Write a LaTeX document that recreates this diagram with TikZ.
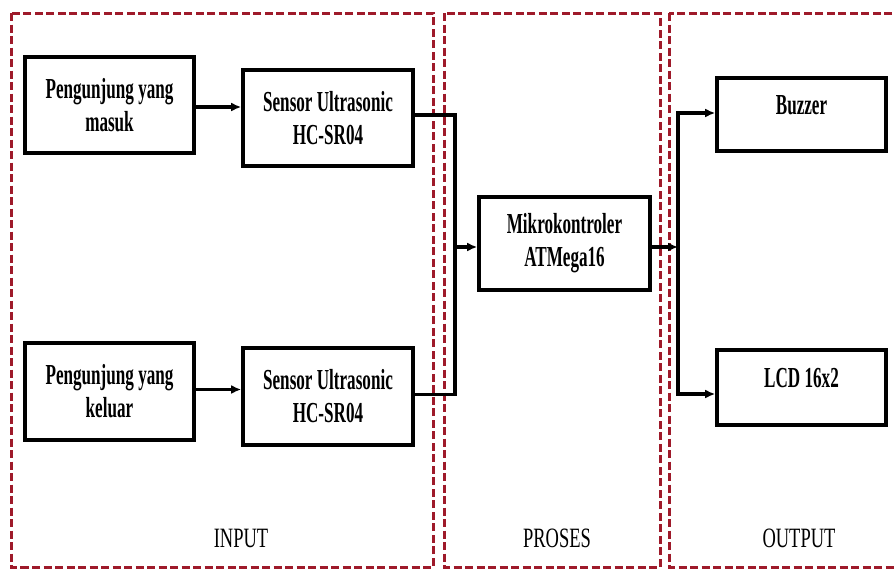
\documentclass[tikz,border=0pt]{standalone}
\usepackage{fontspec}
\setmainfont{Liberation Serif}
\newfontfamily\boxfont{Liberation Serif}[FakeStretch=0.59]
\newfontfamily\labfont{Liberation Serif}[FakeStretch=0.66]
\usetikzlibrary{arrows.meta}
\definecolor{zonered}{RGB}{158,26,42}
\begin{document}
\begin{tikzpicture}[x=1pt,y=-1pt,
  blk/.style={draw=black, line width=3.6pt, align=center, inner sep=0pt,
    font=\boxfont\bfseries\fontsize{29}{33}\selectfont},
  zone/.style={draw=zonered, line width=3pt, dash pattern=on 8pt off 3.5pt},
  conn/.style={line width=3.4pt, draw=black},
  arr/.style={conn, -{Latex[length=10pt,width=9pt]}},
  zlabel/.style={font=\labfont\fontsize{28}{30}\selectfont, anchor=base}]
\useasboundingbox (0,0) rectangle (895,574);
\fill[white] (0,0) rectangle (895,574);
% zones
\draw[zone] (11,13) rectangle (433,567);
\draw[zone] (444,13) rectangle (660,567);
\draw[zone] (669,13) rectangle (905,567);
% blocks
\node[blk, minimum width=169pt, minimum height=96pt] (m) at (109.5,105) {Pengunjung yang\\masuk};
\node[blk, minimum width=170pt, minimum height=96pt] (s1) at (328,118) {Sensor Ultrasonic\\HC-SR04};
\node[blk, minimum width=169pt, minimum height=97pt] (k) at (109.5,391.5) {Pengunjung yang\\keluar};
\node[blk, minimum width=170pt, minimum height=97pt] (s2) at (328,396.5) {Sensor Ultrasonic\\HC-SR04};
\node[blk, minimum width=171pt, minimum height=93pt] (mk) at (564.5,243.5) {Mikrokontroler\\ATMega16};
\node[blk, minimum width=169pt, minimum height=73pt, text height=10pt, text depth=10pt] (bz) at (801.5,114.5) {Buzzer};
\node[blk, minimum width=169pt, minimum height=75pt, text height=10pt, text depth=10pt] (lcd) at (801.5,387.5) {LCD 16x2};
% junctions
\coordinate (jn) at (455,247);
\coordinate (jo) at (678,247);
% connectors
\draw[arr] ([yshift=-2pt]m.east) -- ([yshift=-2pt]m.east -| s1.west);
\draw[arr] ([yshift=2pt]k.east) -- ([yshift=2pt]k.east -| s2.west);
\draw[conn] ([yshift=3pt]s1.east) -| (jn) |- ([yshift=2pt]s2.east);
\draw[arr] (jn) -- (jn -| mk.west);
\draw[arr] (jo -| mk.east) -- (jo);
\draw[arr] (jo) |- ([yshift=1.5pt]bz.west);
\draw[arr] (jo) |- ([yshift=-6.5pt]lcd.west);
% labels
\node[zlabel] (lin) at (241,547) {INPUT};
\node[zlabel] (lpr) at (557,547) {PROSES};
\node[zlabel] (lout) at (799,547) {OUTPUT};
\end{tikzpicture}
\end{document}
